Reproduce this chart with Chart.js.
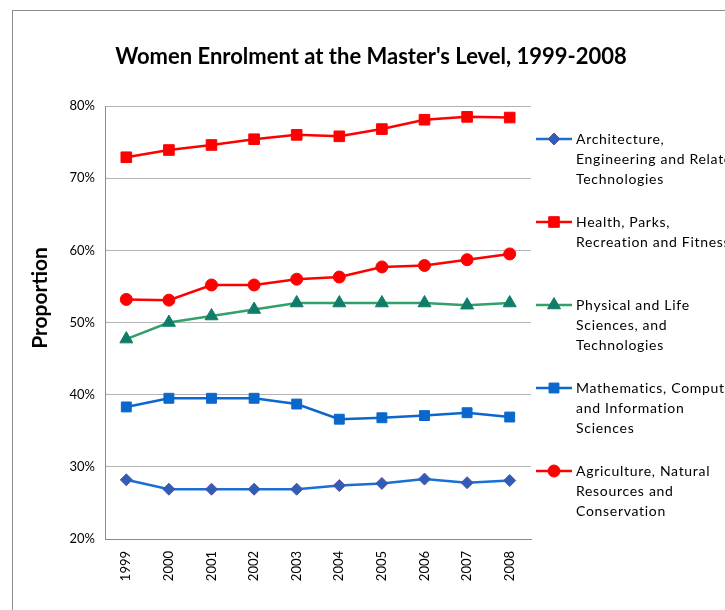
<!DOCTYPE html>
<html lang="en">
<head>
<meta charset="UTF-8">
<title>Women Enrolment at the Master's Level, 1999-2008</title>
<style>
    html, body {
        margin: 0;
        padding: 0;
        background: #ffffff;
        overflow: hidden;
    }
    #chart {
        position: absolute;
        left: 0;
        top: 0;
    }
</style>
<script src="https://cdn.jsdelivr.net/npm/chart.js"></script>
</head>
<body>
<canvas id="chart" width="742" height="610"></canvas>
<script>
    // Data (percent)
    const years = ['1999', '2000', '2001', '2002', '2003', '2004', '2005', '2006', '2007', '2008'];
    const architecture = [28.2, 26.9, 26.9, 26.9, 26.9, 27.4, 27.7, 28.3, 27.8, 28.1];
    const health = [72.9, 73.9, 74.6, 75.4, 76.0, 75.8, 76.8, 78.1, 78.5, 78.4];
    const physical = [47.7, 50.0, 50.9, 51.8, 52.7, 52.7, 52.7, 52.7, 52.4, 52.7];
    const mathematics = [38.3, 39.5, 39.5, 39.5, 38.7, 36.6, 36.8, 37.1, 37.5, 36.9];
    const agriculture = [53.2, 53.1, 55.2, 55.2, 56.0, 56.3, 57.7, 57.9, 58.7, 59.5];

    // legend text, already split into lines like the original
    const seriesNames = [
        ['Architecture,', 'Engineering and Related', 'Technologies'],
        ['Health, Parks,', 'Recreation and Fitness'],
        ['Physical and Life', 'Sciences, and', 'Technologies'],
        ['Mathematics, Computer', 'and Information', 'Sciences'],
        ['Agriculture, Natural', 'Resources and', 'Conservation']
    ];

    const chartTitle = "Women Enrolment at the Master's Level, 1999-2008";
    const yTitle = 'Proportion';

    const FONT = 'Lato, "Open Sans", sans-serif';

    function series(i, data, color, style, radius, fill, border) {
        return {
            label: seriesNames[i].join(' '),
            data: data,
            borderColor: color,
            borderWidth: 2.5,
            pointStyle: style,
            pointRadius: radius,
            pointHoverRadius: radius,
            pointBackgroundColor: fill,
            pointBorderColor: border,
            pointBorderWidth: 1,
            fill: false,
            tension: 0
        };
    }

    // frame, titles and the wrapped legend on the right
    const extras = {
        id: 'extras',
        beforeDraw(chart) {
            const ctx = chart.ctx;
            ctx.save();
            ctx.strokeStyle = '#8c8c8c';
            ctx.lineWidth = 1;
            ctx.strokeRect(12.5, 10.5, 900, 900);
            ctx.restore();
        },
        afterDraw(chart) {
            const ctx = chart.ctx;
            const area = chart.chartArea;

            ctx.save();
            ctx.fillStyle = '#000';
            ctx.textAlign = 'center';
            ctx.textBaseline = 'middle';
            ctx.font = 'bold 22px ' + FONT;
            ctx.fillText(chartTitle, 371, 57);

            ctx.translate(40, 298);
            ctx.rotate(-Math.PI / 2);
            ctx.font = 'bold 21px ' + FONT;
            ctx.fillText(yTitle, 0, 0);
            ctx.restore();

            const x0 = area.right + 5;
            chart.data.datasets.forEach((ds, i) => {
                const y = 139 + i * 83;
                ctx.save();
                ctx.strokeStyle = ds.borderColor;
                ctx.lineWidth = ds.borderWidth;
                ctx.beginPath();
                ctx.moveTo(x0, y);
                ctx.lineTo(x0 + 36, y);
                ctx.stroke();
                ctx.fillStyle = ds.pointBackgroundColor;
                ctx.strokeStyle = ds.pointBorderColor;
                ctx.lineWidth = 1;
                Chart.helpers.drawPoint(ctx, {
                    pointStyle: ds.pointStyle,
                    radius: ds.pointRadius,
                    rotation: 0,
                    borderWidth: 1
                }, x0 + 18, y);
                ctx.fillStyle = '#000';
                ctx.font = '14px ' + FONT;
                ctx.letterSpacing = '0.7px';
                ctx.textAlign = 'left';
                ctx.textBaseline = 'middle';
                seriesNames[i].forEach((line, j) => {
                    ctx.fillText(line, x0 + 40, y + j * 20);
                });
                ctx.restore();
            });
        }
    };

    new Chart(document.getElementById('chart'), {
        type: 'line',
        data: {
            labels: years,
            datasets: [
                series(0, architecture, '#1a6fd4', 'rectRot', 6, '#2f5db8', '#5a4fa0'),
                series(1, health, '#ff0000', 'rect', 7.5, '#ff0000', '#ff0000'),
                series(2, physical, '#33a06a', 'triangle', 7.5, '#107d6a', '#107d6a'),
                series(3, mathematics, '#0a67cc', 'rect', 7, '#0a67cc', '#0a67cc'),
                series(4, agriculture, '#ff0000', 'circle', 6, '#ff0000', '#ff0000')
            ]
        },
        options: {
            responsive: false,
            animation: false,
            layout: {
                padding: { left: 12, right: 211, top: 106, bottom: 0 }
            },
            plugins: {
                legend: { display: false },
                tooltip: { enabled: false },
                title: { display: false }
            },
            scales: {
                x: {
                    offset: true,
                    grid: { display: false },
                    border: { color: '#8c8c8c' },
                    ticks: {
                        color: '#000',
                        font: { family: FONT, size: 13 },
                        minRotation: 90,
                        maxRotation: 90,
                        padding: 4
                    },
                    afterFit(scale) { scale.height = 71; }
                },
                y: {
                    min: 20,
                    max: 80,
                    grid: { color: '#b3b3b3', drawTicks: false },
                    border: { color: '#8c8c8c' },
                    ticks: {
                        stepSize: 10,
                        color: '#000',
                        padding: 10,
                        font: { family: FONT, size: 13 },
                        callback: v => v + '%'
                    },
                    afterFit(scale) { scale.width = 93; }
                }
            }
        },
        plugins: [extras]
    });
</script>
</body>
</html>
